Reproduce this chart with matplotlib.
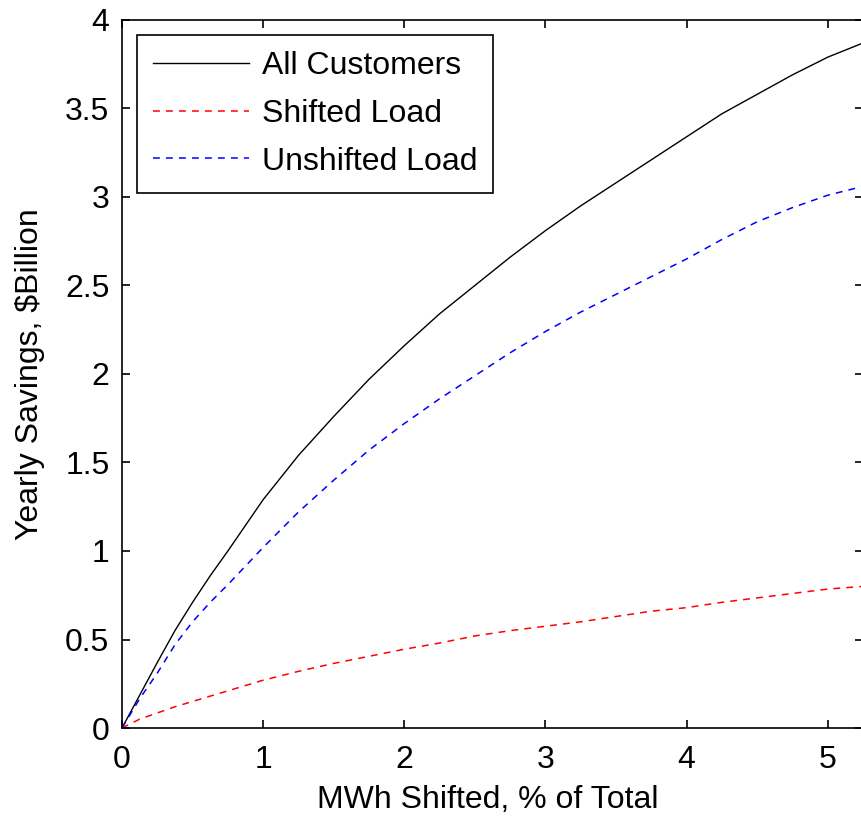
import matplotlib
matplotlib.use("Agg")
import matplotlib.pyplot as plt

plt.rcParams['font.family'] = ['Liberation Sans', 'DejaVu Sans']

# Share of total MWh shifted (%)
shifted_pct = [0, 0.125, 0.25, 0.375, 0.5, 0.625, 0.75, 1.0, 1.25, 1.5, 1.75, 2.0,
               2.25, 2.5, 2.75, 3.0, 3.25, 3.5, 3.75, 4.0, 4.25, 4.5, 4.75, 5.0, 5.25]

# Yearly savings, $ billion
all_customers = [0, 0.185, 0.37, 0.55, 0.71, 0.86, 1.00, 1.29, 1.54, 1.76, 1.97, 2.16,
                 2.34, 2.50, 2.66, 2.81, 2.95, 3.08, 3.21, 3.34, 3.47, 3.58, 3.69, 3.79, 3.87]
shifted_load = [0, 0.05, 0.085, 0.12, 0.15, 0.18, 0.21, 0.27, 0.32, 0.365, 0.405, 0.445,
                0.48, 0.52, 0.55, 0.575, 0.60, 0.63, 0.66, 0.68, 0.71, 0.735, 0.76, 0.785, 0.80]
unshifted_load = [0, 0.165, 0.31, 0.47, 0.60, 0.71, 0.81, 1.02, 1.22, 1.40, 1.57, 1.72,
                  1.86, 1.99, 2.12, 2.24, 2.35, 2.45, 2.55, 2.65, 2.76, 2.86, 2.94, 3.01, 3.06]

x_ticks = [0, 1, 2, 3, 4, 5]
y_ticks = [0, 0.5, 1, 1.5, 2, 2.5, 3, 3.5, 4]
y_tick_labels = ['0', '0.5', '1', '1.5', '2', '2.5', '3', '3.5', '4']

FS = 23

fig = plt.figure(figsize=(8.61, 8.16), dpi=100)
ax = fig.add_axes([122 / 861, 88 / 816, 741 / 861, 708 / 816])

ax.plot(shifted_pct, all_customers, color='black', lw=1.0, label='All Customers')
ax.plot(shifted_pct, shifted_load, color='#ff0000', lw=1.1, dashes=(4.5, 4.0),
        label='Shifted Load')
ax.plot(shifted_pct, unshifted_load, color='#0000ff', lw=1.1, dashes=(4.5, 4.0),
        label='Unshifted Load')

ax.set_xlim(0, 5.25)
ax.set_ylim(0, 4)
ax.set_xticks(x_ticks)
ax.set_xticklabels([str(t) for t in x_ticks])
ax.set_yticks(y_ticks)
ax.set_yticklabels(y_tick_labels)

ax.tick_params(axis='both', direction='in', length=6, width=1.2,
               top=True, right=True, labelsize=FS, colors='black')
ax.tick_params(axis='x', pad=12)
ax.tick_params(axis='y', pad=9)
for sp in ax.spines.values():
    sp.set_linewidth(1.2)

ax.set_xlabel('MWh Shifted, % of Total', fontsize=FS)
ax.xaxis.set_label_coords(0.493, -0.08)
ax.set_ylabel('Yearly Savings, $Billion', fontsize=FS)
ax.yaxis.set_label_coords(-0.104, 0.5)

leg = ax.legend(loc='upper left', bbox_to_anchor=(0.0202, 0.979),
                borderaxespad=0, fontsize=FS, fancybox=False, framealpha=1,
                edgecolor='black', handlelength=3.0, handletextpad=0.4,
                borderpad=0.5, labelspacing=0.56)
leg.get_frame().set_linewidth(1.2)

fig.savefig('out.png', dpi=100)
